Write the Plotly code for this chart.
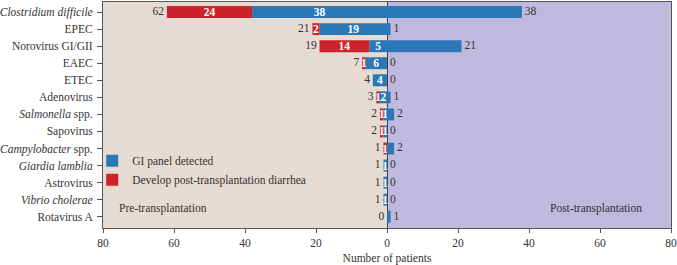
import plotly.graph_objects as go

categories = ["<i>Clostridium difficile</i>", "EPEC", "Norovirus GI/GII", "EAEC", "ETEC",
              "Adenovirus", "<i>Salmonella</i> spp.", "Sapovirus", "<i>Campylobacter</i> spp.",
              "<i>Giardia lamblia</i>", "Astrovirus", "<i>Vibrio cholerae</i>", "Rotavirus A"]
pre_detected = [38, 19, 5, 6, 4, 2, 1, 1, 0, 1, 1, 1, 0]
pre_diarrhea = [24, 2, 14, 1, 0, 1, 1, 1, 1, 0, 0, 0, 0]
post_detected = [38, 1, 21, 0, 0, 1, 2, 0, 2, 0, 0, 0, 1]
tick_vals = [-80, -60, -40, -20, 0, 20, 40, 60, 80]
tick_text = ["80", "60", "40", "20", "0", "20", "40", "60", "80"]

BLUE = "#2a78b8"
RED = "#cc2229"
FONT = "Liberation Serif, Times New Roman, serif"
FS = 11.5
TXT = "#333333"
NB = "\u00a0"

pre_total = [a + b for a, b in zip(pre_detected, pre_diarrhea)]

fig = go.Figure()
fig.add_trace(go.Bar(
    y=categories, x=[-v for v in pre_detected], orientation="h", name="GI panel detected",
    marker=dict(color=BLUE, line=dict(width=0)), width=0.7,
    text=[str(v) if v else "" for v in pre_detected], textposition="inside", textangle=0,
    insidetextanchor="middle", textfont=dict(color="white", family=FONT, size=FS),
    texttemplate="<b>%{text}</b>", legendrank=1))
fig.add_trace(go.Bar(
    y=categories, x=[-v for v in pre_diarrhea], orientation="h",
    name="Develop post-transplantation diarrhea",
    marker=dict(color=RED, line=dict(width=0)), width=0.7,
    text=[str(v) if v else "" for v in pre_diarrhea], textposition="inside", textangle=0,
    insidetextanchor="middle", textfont=dict(color="white", family=FONT, size=FS),
    texttemplate="<b>%{text}</b>", legendrank=2))
fig.add_trace(go.Bar(
    y=categories, x=post_detected, orientation="h", showlegend=False,
    marker=dict(color=BLUE, line=dict(width=0)), width=0.7, textposition="none"))
fig.add_trace(go.Scatter(
    y=categories, x=[-v for v in pre_total], mode="text", text=[str(v) + NB for v in pre_total],
    textposition="middle left", textfont=dict(color=TXT, family=FONT, size=FS),
    showlegend=False, cliponaxis=False, hoverinfo="skip"))
fig.add_trace(go.Scatter(
    y=categories, x=post_detected, mode="text", text=[NB + str(v) for v in post_detected],
    textposition="middle right", textfont=dict(color=TXT, family=FONT, size=FS),
    showlegend=False, cliponaxis=False, hoverinfo="skip"))

fig.update_layout(
    width=677, height=265, barmode="relative",
    margin=dict(l=103, r=6, t=2, b=37, autoexpand=False),
    paper_bgcolor="white", plot_bgcolor="white",
    font=dict(family=FONT, size=FS, color=TXT),
    uniformtext=dict(minsize=FS, mode="show"),
    legend=dict(x=-0.019, y=0.362, xanchor="left", yanchor="top", bgcolor="rgba(0,0,0,0)",
                font=dict(family=FONT, size=FS, color=TXT), tracegroupgap=0,
                itemwidth=30),
    shapes=[
        dict(type="rect", xref="x", yref="paper", x0=-80, x1=0, y0=0, y1=1,
             fillcolor="#e6dbd2", line=dict(width=0), layer="below"),
        dict(type="rect", xref="x", yref="paper", x0=0, x1=80, y0=0, y1=1,
             fillcolor="#bfb9de", line=dict(width=0), layer="below"),
    ],
    annotations=[
        dict(text="Pre-transplantation", xref="paper", yref="paper", x=0.025, y=0.085,
             xanchor="left", yanchor="middle", showarrow=False,
             font=dict(family=FONT, size=FS, color=TXT)),
        dict(text="Post-transplantation", xref="paper", yref="paper", x=0.952, y=0.085,
             xanchor="right", yanchor="middle", showarrow=False,
             font=dict(family=FONT, size=FS, color=TXT)),
    ],
)
fig.update_xaxes(range=[-80, 80], tickvals=tick_vals, ticktext=tick_text, automargin=False,
                 showline=True, linecolor="#555555", linewidth=1, mirror=True,
                 ticks="outside", ticklen=4, tickcolor="#555555",
                 showgrid=False, zeroline=True, zerolinecolor="#444444", zerolinewidth=1,
                 title=dict(text="Number of patients", font=dict(family=FONT, size=FS, color=TXT),
                            standoff=6),
                 tickfont=dict(family=FONT, size=FS, color=TXT))
fig.update_yaxes(range=[12.66, -0.59], showline=True, linecolor="#555555", linewidth=1,
                 automargin=False, ticklabelstandoff=2,
                 mirror=True, ticks="outside", ticklen=5, tickcolor="#555555",
                 showgrid=False, tickfont=dict(family=FONT, size=FS, color=TXT))

fig.write_html("out.html", config={"displayModeBar": False},
               post_script="document.body.style.margin='0px';")
